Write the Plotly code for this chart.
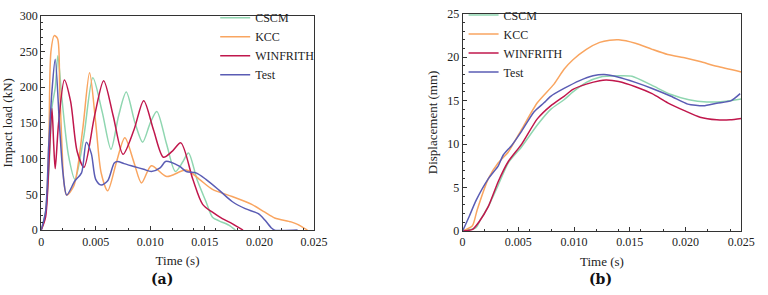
import plotly.graph_objects as go

# ---- (a) Impact load vs time ----
t_cscm_a = [0, 0.0004, 0.0007, 0.0010, 0.0013, 0.00153, 0.0019, 0.0025, 0.0031, 0.0039, 0.00474, 0.0056, 0.0064, 0.0071, 0.0078, 0.0086, 0.0093, 0.0100, 0.0106, 0.0115, 0.0123, 0.0130, 0.0135, 0.0143, 0.0151, 0.0157, 0.0163, 0.0172, 0.0178]
v_cscm_a = [0, 25, 80, 172, 200, 244, 185, 105, 71, 130, 213, 165, 113, 160, 193, 150, 123, 150, 166, 120, 82, 96, 108, 70, 40, 18, 13, 7, 0]

t_kcc_a = [0, 0.0004, 0.0007, 0.0009, 0.0012, 0.0015, 0.0017, 0.0019, 0.0021, 0.00234, 0.0030, 0.0038, 0.00444, 0.0050, 0.0055, 0.0061, 0.0069, 0.00767, 0.0085, 0.0092, 0.0101, 0.0115, 0.0133, 0.0145, 0.0157, 0.0175, 0.0193, 0.0205, 0.0214, 0.0229, 0.0235, 0.0244]
v_kcc_a = [0, 22, 120, 250, 272, 268, 200, 120, 65, 49, 62, 140, 220, 150, 80, 55, 95, 129, 95, 66, 90, 75, 84, 71, 57, 47, 36, 25, 17, 11.5, 8, 0]

t_win_a = [0, 0.0004, 0.0007, 0.00099, 0.00115, 0.00129, 0.0016, 0.00213, 0.0027, 0.0033, 0.00393, 0.0049, 0.00573, 0.0066, 0.0075, 0.0085, 0.0094, 0.0103, 0.0112, 0.0120, 0.0128, 0.0139, 0.0148, 0.0157, 0.0166, 0.0175, 0.0185]
v_win_a = [0, 18, 90, 170, 120, 86, 150, 210, 180, 110, 88, 160, 209, 160, 106, 140, 181, 140, 102, 110, 122, 71, 36, 25, 16, 9, 0]

t_test_a = [0, 0.0004, 0.0007, 0.0010, 0.00129, 0.0017, 0.0020, 0.00234, 0.0031, 0.0037, 0.00414, 0.0046, 0.0050, 0.0055, 0.0061, 0.0067, 0.0070, 0.0076, 0.0085, 0.0094, 0.0101, 0.0109, 0.0114, 0.0119, 0.0127, 0.0133, 0.0142, 0.0151, 0.0163, 0.0175, 0.0187, 0.0199, 0.0205, 0.0211, 0.0214, 0.0235]
v_test_a = [0, 25, 120, 196, 239, 142, 80, 49, 69, 80, 123, 107, 71, 63, 69, 94, 96, 93, 89, 85, 82, 87, 96, 95, 89, 82, 80, 71, 56, 40, 30, 23, 14, 3, 0, 0]

# ---- (b) Displacement vs time ----
t_cscm_b = [0, 0.0012, 0.0016, 0.0023, 0.0032, 0.0041, 0.0053, 0.0067, 0.0079, 0.0091, 0.0099, 0.0111, 0.0123, 0.0140, 0.0152, 0.0170, 0.0187, 0.0203, 0.0219, 0.0234, 0.0250]
v_cscm_b = [0, 0.4, 1.3, 2.8, 5.3, 7.85, 9.7, 12.2, 14.0, 15.1, 16.0, 17.1, 17.7, 17.85, 17.8, 16.75, 15.7, 15.1, 14.85, 14.9, 15.2]

t_kcc_b = [0, 0.00088, 0.0013, 0.0023, 0.0032, 0.0041, 0.0053, 0.0067, 0.0082, 0.0091, 0.0099, 0.0111, 0.0123, 0.0132, 0.0140, 0.0155, 0.0170, 0.0184, 0.0200, 0.0213, 0.0228, 0.0250]
v_kcc_b = [0, 0.6, 2.4, 6.0, 7.85, 9.1, 11.7, 14.75, 16.9, 18.6, 19.7, 20.9, 21.7, 21.95, 22.0, 21.6, 20.9, 20.3, 19.9, 19.5, 18.95, 18.3]

t_win_b = [0, 0.0009, 0.0015, 0.0023, 0.0032, 0.0041, 0.0053, 0.0067, 0.0079, 0.0091, 0.0099, 0.0111, 0.0123, 0.0129, 0.0140, 0.0155, 0.0170, 0.0184, 0.0199, 0.0213, 0.0228, 0.0240, 0.0250]
v_win_b = [0, 0.2, 1.1, 2.8, 5.7, 8.0, 10.0, 12.9, 14.4, 15.5, 16.3, 16.9, 17.3, 17.37, 17.2, 16.6, 15.8, 14.75, 13.85, 13.1, 12.8, 12.8, 12.95]

t_test_b = [0, 0.0006, 0.0012, 0.0023, 0.0032, 0.00365, 0.0044, 0.0053, 0.0064, 0.0073, 0.0079, 0.0091, 0.0105, 0.0117, 0.0127, 0.0140, 0.0155, 0.0170, 0.0187, 0.0202, 0.0216, 0.0228, 0.0241, 0.0249]
v_test_b = [0, 1.7, 3.5, 6.0, 7.5, 8.75, 9.85, 11.5, 13.7, 14.75, 15.5, 16.4, 17.3, 17.85, 18.0, 17.7, 17.1, 16.4, 15.5, 14.6, 14.4, 14.7, 15.0, 15.8]

names = ["CSCM", "KCC", "WINFRITH", "Test"]
colors = ["#8fd6b0", "#f9a560", "#c0174c", "#5a5cb4"]

x_tickvals = [0, 0.005, 0.010, 0.015, 0.020, 0.025]
x_ticktext = ["0", "0.005", "0.010", "0.015", "0.020", "0.025"]

series_a = [(t_cscm_a, v_cscm_a), (t_kcc_a, v_kcc_a), (t_win_a, v_win_a), (t_test_a, v_test_a)]
series_b = [(t_cscm_b, v_cscm_b), (t_kcc_b, v_kcc_b), (t_win_b, v_win_b), (t_test_b, v_test_b)]

FONT = "Liberation Serif, Times New Roman, serif"
fig = go.Figure()
for (t, v), n, c in zip(series_a, names, colors):
    fig.add_trace(go.Scatter(x=t, y=v, name=n, mode="lines", line=dict(color=c, width=1.5, shape="spline", smoothing=0.8),
                             xaxis="x", yaxis="y", legend="legend"))
for (t, v), n, c in zip(series_b, names, colors):
    fig.add_trace(go.Scatter(x=t, y=v, name=n, mode="lines", line=dict(color=c, width=1.5, shape="spline", smoothing=0.6),
                             xaxis="x2", yaxis="y2", legend="legend2"))

W, H = 768, 295
def px_x(p): return p / W
def px_y(p): return 1 - p / H

axis_common = dict(showline=True, linecolor="#333333", linewidth=1, mirror=True, ticks="inside", ticklen=4,
                   tickcolor="#333333", showgrid=False, zeroline=False,
                   tickfont=dict(family=FONT, size=12, color="#222222"),
                   minor=dict(ticks="inside", ticklen=2, tickcolor="#333333"))

fig.update_layout(
    width=W, height=H, margin=dict(l=0, r=0, t=0, b=0),
    paper_bgcolor="white", plot_bgcolor="white",
    font=dict(family=FONT, size=12, color="#222222"),
    xaxis=dict(domain=[px_x(39), px_x(318)], range=[0, 0.025], tickvals=x_tickvals, ticktext=x_ticktext,
               title=dict(text="Time (s)", font=dict(family=FONT, size=13), standoff=8), anchor="y", **axis_common),
    yaxis=dict(domain=[px_y(234), px_y(8)], range=[0, 300], dtick=50,
               title=dict(text="Impact load (kN)", font=dict(family=FONT, size=13), standoff=6), anchor="x", **axis_common),
    xaxis2=dict(domain=[px_x(470), px_x(755)], range=[0, 0.025], tickvals=x_tickvals, ticktext=x_ticktext,
                title=dict(text="Time (s)", font=dict(family=FONT, size=13), standoff=8), anchor="y2", **axis_common),
    yaxis2=dict(domain=[px_y(235), px_y(6)], range=[0, 25], dtick=5,
                title=dict(text="Displacement (mm)", font=dict(family=FONT, size=13), standoff=6), anchor="x2", **axis_common),
    legend=dict(x=px_x(217), y=px_y(-5), xanchor="left", yanchor="top", bgcolor="rgba(0,0,0,0)",
                font=dict(family=FONT, size=12), itemwidth=30, tracegroupgap=0),
    legend2=dict(x=px_x(471), y=px_y(-8), xanchor="left", yanchor="top", bgcolor="rgba(0,0,0,0)",
                 font=dict(family=FONT, size=12), itemwidth=30, tracegroupgap=0),
    showlegend=True,
    annotations=[
        dict(text="<b>(a)</b>", x=px_x(163), y=px_y(285), xref="paper", yref="paper", showarrow=False,
             xanchor="center", yanchor="middle", font=dict(family="DejaVu Serif", size=14, color="#111111")),
        dict(text="<b>(b)</b>", x=px_x(611), y=px_y(285), xref="paper", yref="paper", showarrow=False,
             xanchor="center", yanchor="middle", font=dict(family="DejaVu Serif", size=14, color="#111111")),
    ],
)
fig.write_html("out.html")
